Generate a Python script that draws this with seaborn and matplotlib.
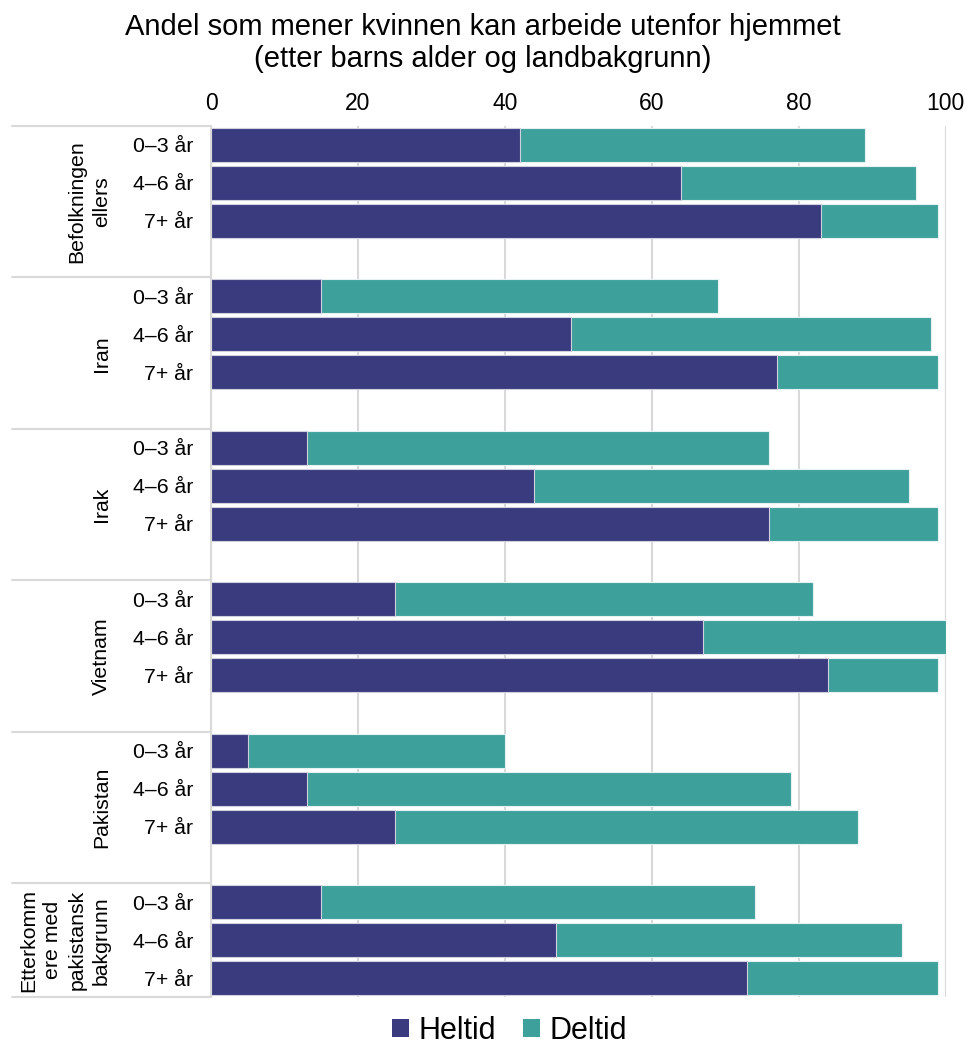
import numpy as np
import pandas as pd
import matplotlib
matplotlib.use("Agg")
import matplotlib.pyplot as plt
import seaborn as sns
from matplotlib.patches import Patch

# ---- data ----
groups = ["Befolkningen\nellers", "Iran", "Irak", "Vietnam", "Pakistan",
          "Etterkomm\nere med\npakistansk\nbakgrunn"]
ages = ["0–3 år", "4–6 år", "7+ år"]
heltid = [
    [42, 64, 83],
    [15, 49, 77],
    [13, 44, 76],
    [25, 67, 84],
    [5, 13, 25],
    [15, 47, 73],
]
deltid = [
    [47, 32, 16],
    [54, 49, 22],
    [63, 51, 23],
    [57, 33, 15],
    [35, 66, 63],
    [59, 47, 26],
]
xticks = [0, 20, 40, 60, 80, 100]
title_lines = ["Andel som mener kvinnen kan arbeide utenfor hjemmet",
               "(etter barns alder og landbakgrunn)"]
series_names = ["Heltid", "Deltid"]

c_hel = "#393b7e"
c_del = "#3ea09b"

sns.set_theme(style="white")
plt.rcParams["font.family"] = ["Liberation Sans", "DejaVu Sans"]
plt.rcParams["text.color"] = "black"
plt.rcParams["xtick.color"] = "black"
plt.rcParams["ytick.color"] = "black"

rows = []
order = []
for gi, g in enumerate(groups):
    for ai, a in enumerate(ages):
        key = f"{gi}|{a}"
        order.append(key)
        rows.append({"slot": key, "Heltid": heltid[gi][ai],
                     "Total": heltid[gi][ai] + deltid[gi][ai]})
    if gi < len(groups) - 1:
        order.append(" " * (gi + 1))
df = pd.DataFrame(rows)

W, H = 971, 1045
fig = plt.figure(figsize=(W / 100, H / 100), dpi=100)
ax = fig.add_axes([211 / W, 1 - 997 / H, 734.7 / W, 871 / H])

sns.barplot(data=df, y="slot", x="Total", order=order, color=c_del, saturation=1,
            orient="h", width=0.9, errorbar=None, edgecolor="#e6f2f1", linewidth=0.8, ax=ax)
sns.barplot(data=df, y="slot", x="Heltid", order=order, color=c_hel, saturation=1,
            orient="h", width=0.9, errorbar=None, edgecolor="#d0d0e0", linewidth=0.8, ax=ax)

ax.set_xlim(0, 100)
ax.set_ylim(len(order) - 0.5, -0.5)
ax.xaxis.tick_top()
ax.set_xticks(xticks)
ax.set_xticklabels([str(t) for t in xticks], fontsize=16.5)
ax.tick_params(axis="x", length=0, pad=8)
labels = [o.split("|")[1] if "|" in o else "" for o in order]
ax.set_yticks(range(len(order)))
ax.set_yticklabels(labels, fontsize=15.3)
ax.tick_params(axis="y", length=0, pad=13)
ax.set_xlabel("")
ax.set_ylabel("")
ax.grid(axis="x", color="#d9d9d9", linewidth=1.5)
ax.grid(axis="y", visible=False)
ax.set_axisbelow(True)
for s in ["top", "right", "bottom"]:
    ax.spines[s].set_visible(False)
ax.spines["left"].set_color("#d9d9d9")
ax.spines["left"].set_linewidth(1.5)

trans = ax.get_yaxis_transform()
x0 = (12 - 211) / 734.7
xl = (111 - 211) / 734.7
n = len(groups)
for k in range(n):
    y = k * 4 - 0.5
    ax.plot([x0, 0], [y, y], color="#d9d9d9", lw=1.5, transform=trans, clip_on=False)
    yc = k * 4 + 1.5 if k < n - 1 else k * 4 + 1
    ax.text(xl, yc, groups[k], rotation=90, ha="right",
            va="center", multialignment="center", fontsize=15.3, transform=trans,
            linespacing=1.35)
ax.plot([x0, 0], [len(order) - 0.5] * 2, color="#d9d9d9", lw=1.5, transform=trans, clip_on=False)

fig.text(0.497, 1 - 35 / H, title_lines[0], ha="center", va="baseline", fontsize=21)
fig.text(0.497, 1 - 67 / H, title_lines[1], ha="center", va="baseline", fontsize=21)

handles = [Patch(facecolor=c_hel, edgecolor="none"), Patch(facecolor=c_del, edgecolor="none")]
fig.legend(handles, series_names, loc="center", bbox_to_anchor=(509.5 / W, 1 - 1031 / H),
           ncol=2, frameon=False, fontsize=22, handlelength=0.55, handleheight=0.55,
           handletextpad=0.3, columnspacing=0.9, borderaxespad=0, borderpad=0.2)

fig.savefig("out.png", dpi=100)
